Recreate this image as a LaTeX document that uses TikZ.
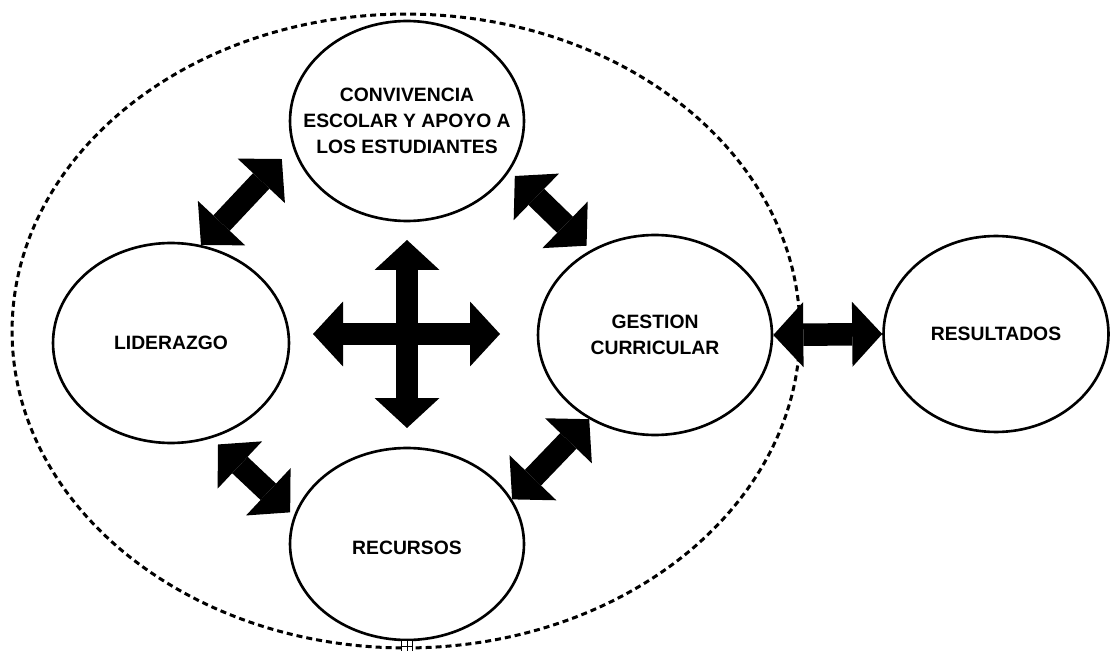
\documentclass[tikz,border=0pt]{standalone}
\usepackage{fontspec}
\setmainfont{Liberation Sans}
\usetikzlibrary{shapes.geometric,arrows.meta}

\tikzset{
  area/.style={ellipse, draw, line width=1.5pt, inner sep=0pt,
    minimum width=4.68cm, minimum height=4cm},
  areatext/.style={align=center, inner sep=0pt, font=\bfseries\fontsize{11}{14.8}\selectfont},
  link/.style={line width=0.45cm, {Triangle[length=0.6cm,width=1.3cm,line width=0pt]}-{Triangle[length=0.6cm,width=1.3cm,line width=0pt]}}
}

\begin{document}
\begin{tikzpicture}[x=0.02cm, y=-0.02cm]
  \useasboundingbox (0,0) rectangle (1111,651);

  \node[ellipse, draw, dash pattern=on 0.12cm off 0.08cm, line width=0.06cm,
    minimum width=15.76cm, minimum height=12.68cm] (campo) at (406,331) {};

  \node[area] (conv) at (407,121) {};
  \node[area, minimum width=4.72cm] (lid) at (171,343) {};
  \node[area] (gest) at (655,335) {};
  \node[area, minimum height=3.84cm] (rec) at (407,544) {};
  \node[area, minimum width=4.5cm, minimum height=3.92cm] (res) at (996,334) {};

  \node[areatext] (conv-txt) at (conv) {CONVIVENCIA\\ESCOLAR Y APOYO A\\LOS ESTUDIANTES};
  \node[areatext] (lid-txt) at (lid) {LIDERAZGO};
  \node[areatext] (gest-txt) at (gest) {GESTION\\CURRICULAR};
  \node[areatext] (rec-txt) at ([yshift=-0.08cm]rec) {RECURSOS};
  \node[areatext] (res-txt) at (res) {RESULTADOS};

  % cross in the middle
  \coordinate (hub) at (407,334);
  \coordinate (arriba) at (407,240);
  \coordinate (abajo) at (407,428);
  \coordinate (izq) at (313,334);
  \coordinate (der) at (500,334);
  \draw[link] (arriba) -- (abajo);
  \draw[link] (izq) -- (der);

  \draw[link, shorten >=0.32cm] (lid.73) -- (conv.193);
  \draw[link, shorten <=0.14cm, shorten >=0.12cm] (conv.334) -- (gest.127);
  \draw[link, shorten <=0.18cm, shorten >=0.1cm] (lid.293) -- (rec.166);
  \draw[link] (rec.23) -- (gest.232);
  \draw[link] (gest.east) -- (res.west);

  \node[draw, fill=white, line width=0.4pt, minimum size=0.22cm, inner sep=0pt] (marca) at (407,646) {};
  \draw[line width=0.4pt] (marca.north) -- (marca.south) (marca.west) -- (marca.east);
\end{tikzpicture}
\end{document}
